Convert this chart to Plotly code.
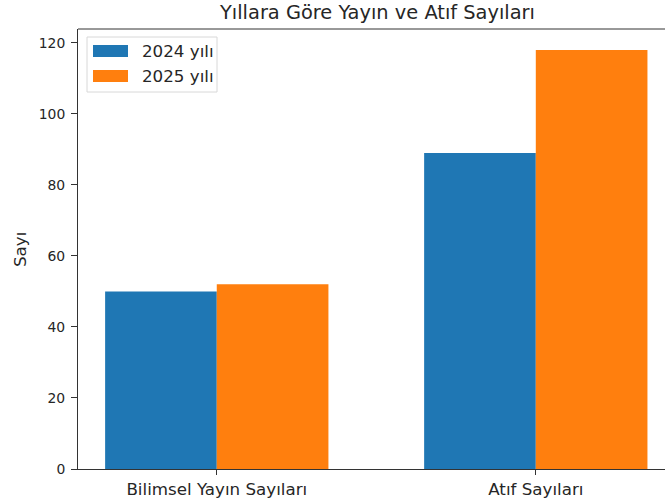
import plotly.graph_objects as go

categories = ["Bilimsel Yayın Sayıları", "Atıf Sayıları"]
series_names = ["2024 yılı", "2025 yılı"]
values_2024 = [50, 89]
values_2025 = [52, 118]
y_ticks = [0, 20, 40, 60, 80, 100, 120]
title_text = "Yıllara Göre Yayın ve Atıf Sayıları"
y_title = "Sayı"

colors = ["#1f77b4", "#ff7f0e"]
FONT = "DejaVu Sans"
TXT = "#262626"

fig = go.Figure()
for name, vals, col in zip(series_names, [values_2024, values_2025], colors):
    fig.add_trace(go.Bar(x=categories, y=vals, name=name, marker=dict(color=col, line=dict(width=0)),
                         showlegend=False))

W, H = 665, 504
L, R, T, B = 78, 0, 29, 35
fig.update_layout(
    width=W, height=H,
    margin=dict(l=L, r=R, t=T, b=B, pad=0),
    paper_bgcolor="white", plot_bgcolor="white",
    barmode="group", bargap=0.3, bargroupgap=0,
    font=dict(family=FONT, size=14, color=TXT),
    xaxis=dict(range=[-0.435, 1.405], showgrid=False, zeroline=False,
               showline=True, linecolor="#333", linewidth=1,
               ticks="outside", ticklen=5, tickcolor="#333",
               tickfont=dict(size=16.7, family=FONT, color=TXT)),
    yaxis=dict(range=[0, 123.9], tickvals=y_ticks, showgrid=False, zeroline=False,
               showline=True, linecolor="#333", linewidth=1,
               ticks="outside", ticklen=6, tickcolor="#333", ticklabelstandoff=3,
               tickfont=dict(size=13.9, family=FONT, color=TXT)),
)

pw, ph = W - L - R, H - T - B
def px(x):
    return (x - L) / pw
def py(y):
    return 1 - (y - T) / ph

# top spine
fig.add_shape(type="line", xref="paper", yref="paper", x0=0, x1=1, y0=1, y1=1,
              line=dict(color="#333", width=1))

# title
fig.add_annotation(text=title_text, xref="paper", yref="paper", x=px(376.5), y=1, yshift=3,
                   xanchor="center", yanchor="bottom", showarrow=False,
                   font=dict(size=19.4, family=FONT, color=TXT))

# y axis title
fig.add_annotation(text=y_title, xref="paper", yref="paper", x=px(20), y=py(250),
                   xanchor="center", yanchor="middle", showarrow=False, textangle=-90,
                   font=dict(size=16.7, family=FONT, color=TXT))

# custom legend
fig.add_shape(type="rect", xref="paper", yref="paper", x0=px(87), x1=px(217), y0=py(37), y1=py(92),
              line=dict(color="#d8d8d8", width=1), fillcolor="rgba(255,255,255,0.8)")
for i, (name, col) in enumerate(zip(series_names, colors)):
    yc = 51 + i * 25
    fig.add_shape(type="rect", xref="paper", yref="paper", x0=px(93), x1=px(128),
                  y0=py(yc - 6), y1=py(yc + 6), line=dict(width=0), fillcolor=col)
    fig.add_annotation(text=name, xref="paper", yref="paper", x=px(140), y=py(yc),
                       xanchor="left", yanchor="middle", showarrow=False,
                       font=dict(size=16.7, family=FONT, color=TXT))

fig.write_html("out.html", config={"displayModeBar": False},
               post_script="document.body.style.margin='0';document.body.style.overflow='hidden';")
